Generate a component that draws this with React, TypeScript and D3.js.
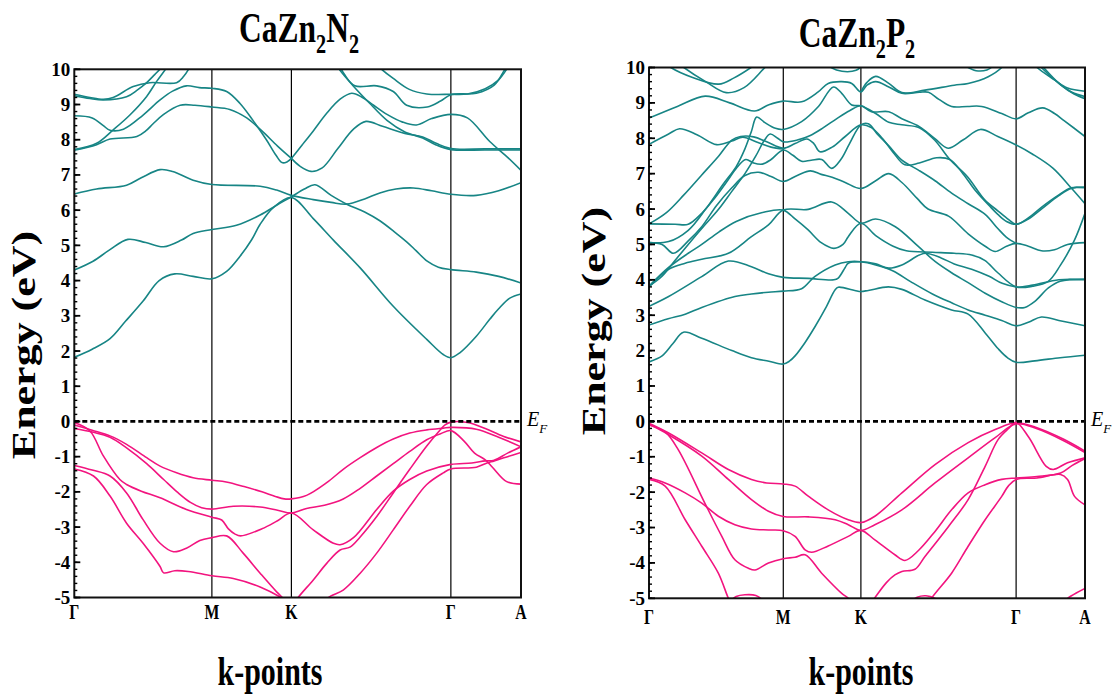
import React from "react";
import * as d3 from "d3";

type Pt = [number, number];

// High-symmetry path labels and their positions along each k-path (0..1)
const kLabels = ["Γ", "M", "K", "Γ", "A"];
const kTicksN2 = [0, 0.308, 0.486, 0.843, 1];
const kTicksP2 = [0, 0.308, 0.486, 0.842, 1];
const energyMajor = d3.range(-5, 11, 1);
const energyMinor = d3.range(-5, 10.001, 0.2);
const energyDomain: [number, number] = [-5, 10];

// ---- CaZn2N2 conduction bands ----
const n2Conduction: Pt[][] = [
  [[0, 1.82], [0.04, 2.05], [0.08, 2.35], [0.115, 2.85], [0.154, 3.42], [0.19, 4.0], [0.225, 4.19], [0.266, 4.12], [0.308, 4.05], [0.341, 4.26], [0.371, 4.69], [0.397, 5.16], [0.416, 5.6], [0.446, 6.08], [0.486, 6.36], [0.535, 5.76], [0.58, 5.15], [0.64, 4.36], [0.714, 3.27], [0.789, 2.33], [0.826, 1.9], [0.843, 1.81], [0.863, 1.95], [0.9, 2.42], [0.93, 2.9], [0.95, 3.2], [0.975, 3.5], [1, 3.62]],
  [[0, 4.3], [0.042, 4.55], [0.079, 4.87], [0.12, 5.17], [0.16, 5.08], [0.2, 4.96], [0.24, 5.15], [0.266, 5.34], [0.308, 5.45], [0.363, 5.57], [0.416, 5.86], [0.453, 6.14], [0.486, 6.38], [0.515, 6.6], [0.539, 6.72], [0.575, 6.42], [0.61, 6.17], [0.65, 5.95], [0.684, 5.7], [0.72, 5.35], [0.744, 5.1], [0.765, 4.85], [0.79, 4.55], [0.815, 4.38], [0.843, 4.31], [0.9, 4.24], [0.95, 4.12], [1, 3.93]],
  [[0, 6.46], [0.05, 6.6], [0.117, 6.71], [0.15, 6.92], [0.192, 7.15], [0.22, 7.1], [0.266, 6.85], [0.308, 6.73], [0.416, 6.68], [0.453, 6.57], [0.486, 6.42], [0.535, 6.3], [0.575, 6.22], [0.61, 6.17], [0.65, 6.32], [0.684, 6.49], [0.72, 6.6], [0.759, 6.63], [0.8, 6.55], [0.843, 6.45], [0.9, 6.42], [0.95, 6.55], [1, 6.78]],
  [[0, 7.7], [0.05, 7.86], [0.08, 8.02], [0.14, 8.09], [0.16, 8.25], [0.177, 8.46], [0.2, 8.72], [0.237, 8.98], [0.27, 8.98], [0.308, 8.93], [0.348, 8.86], [0.386, 8.62], [0.42, 8.25], [0.455, 7.82], [0.486, 7.47]],
  [[0, 8.68], [0.04, 8.62], [0.065, 8.4], [0.08, 8.27], [0.11, 8.3], [0.154, 8.7], [0.192, 9.13], [0.22, 9.38], [0.251, 9.53], [0.28, 9.48], [0.308, 9.46], [0.341, 9.37], [0.371, 9.03], [0.4, 8.55], [0.43, 8.0], [0.452, 7.55], [0.465, 7.35], [0.476, 7.37], [0.486, 7.47]],
  [[0, 7.72], [0.05, 7.9], [0.087, 8.28], [0.125, 8.71], [0.162, 9.23], [0.184, 9.65], [0.207, 10.05], [0.22, 10.3]],
  [[0, 9.29], [0.035, 9.2], [0.065, 9.15], [0.087, 9.2], [0.132, 9.51], [0.169, 9.62], [0.229, 9.62], [0.245, 9.8], [0.258, 10.05], [0.27, 10.3]],
  [[0, 9.25], [0.035, 9.17], [0.065, 9.13], [0.117, 9.22], [0.14, 9.4], [0.162, 9.62], [0.18, 9.85], [0.195, 10.05], [0.21, 10.3]],
  [[0.486, 7.47], [0.51, 7.85], [0.535, 8.25], [0.565, 8.75], [0.595, 9.15], [0.621, 9.32], [0.645, 9.2], [0.67, 8.98], [0.7, 8.72], [0.735, 8.5], [0.766, 8.42], [0.8, 8.6], [0.843, 8.72], [0.88, 8.62], [0.93, 7.95], [0.97, 7.5], [1, 7.13]],
  [[0.486, 7.47], [0.505, 7.25], [0.53, 7.1], [0.555, 7.2], [0.59, 7.75], [0.625, 8.3], [0.653, 8.52], [0.69, 8.38], [0.74, 8.18], [0.78, 8.08], [0.81, 7.9], [0.843, 7.75], [0.92, 7.74], [1, 7.74]],
  [[0.585, 10.15], [0.593, 10], [0.625, 9.52], [0.66, 9.05], [0.7, 8.55], [0.74, 8.22], [0.78, 8.05], [0.81, 7.85], [0.843, 7.72], [0.92, 7.71], [1, 7.71]],
  [[0.59, 10.2], [0.605, 9.85], [0.628, 9.53], [0.677, 9.53], [0.714, 9.37], [0.744, 8.98], [0.79, 8.93], [0.82, 9.1], [0.843, 9.28], [0.9, 9.32], [0.94, 9.55], [0.964, 10], [0.975, 10.2]],
  [[0.68, 10.1], [0.688, 10], [0.714, 9.74], [0.75, 9.43], [0.789, 9.3], [0.843, 9.29], [0.88, 9.3], [0.92, 9.45], [0.95, 9.7], [0.968, 10], [0.98, 10.2]],
];

// ---- CaZn2N2 valence bands ----
const n2Valence: Pt[][] = [
  [[0, -0.1], [0.04, -0.25], [0.08, -0.41], [0.117, -0.65], [0.162, -1.03], [0.192, -1.27], [0.229, -1.46], [0.266, -1.6], [0.308, -1.67], [0.34, -1.72], [0.38, -1.85], [0.42, -2.0], [0.45, -2.13], [0.47, -2.2], [0.486, -2.2], [0.52, -2.1], [0.565, -1.74], [0.602, -1.36], [0.64, -1.03], [0.677, -0.74], [0.714, -0.5], [0.751, -0.33], [0.789, -0.24], [0.826, -0.19], [0.843, -0.17], [0.9, -0.22], [0.95, -0.45], [1, -0.72]],
  [[0, -0.2], [0.04, -0.3], [0.08, -0.45], [0.117, -0.75], [0.162, -1.2], [0.2, -1.65], [0.23, -2.0], [0.26, -2.3], [0.285, -2.45], [0.308, -2.49], [0.356, -2.41], [0.416, -2.43], [0.455, -2.52], [0.486, -2.6], [0.52, -2.47], [0.56, -2.38], [0.602, -2.2], [0.64, -1.9], [0.677, -1.55], [0.714, -1.2], [0.751, -0.85], [0.789, -0.52], [0.82, -0.35], [0.843, -0.26], [0.872, -0.55], [0.896, -0.9], [0.92, -1.09], [0.936, -1.3], [0.968, -1.71], [1, -1.78]],
  [[0, -0.03], [0.035, -0.27], [0.065, -0.98], [0.102, -1.65], [0.117, -1.79], [0.15, -1.98], [0.192, -2.17], [0.251, -2.5], [0.308, -2.72], [0.33, -2.8], [0.345, -3.05], [0.36, -3.2], [0.372, -3.25], [0.42, -3.05], [0.455, -2.82], [0.486, -2.6], [0.535, -3.08], [0.58, -3.46], [0.595, -3.5], [0.625, -3.3], [0.677, -2.5], [0.714, -1.98], [0.751, -1.65], [0.789, -1.41], [0.843, -1.22], [0.89, -1.18], [0.92, -1.12], [0.94, -1.1], [0.97, -0.9], [1, -0.72]],
  [[0, -1.25], [0.04, -1.38], [0.08, -1.55], [0.117, -2.03], [0.154, -2.79], [0.192, -3.46], [0.222, -3.7], [0.251, -3.6], [0.281, -3.38], [0.308, -3.3], [0.341, -3.25], [0.378, -3.74], [0.416, -4.31], [0.453, -4.84], [0.47, -5.05], [0.48, -5.2]],
  [[0, -1.35], [0.043, -1.55], [0.08, -2.12], [0.117, -2.89], [0.154, -3.46], [0.192, -4.12], [0.2, -4.3], [0.225, -4.24], [0.255, -4.26], [0.308, -4.38], [0.356, -4.46], [0.416, -4.7], [0.46, -4.98], [0.48, -5.15]],
  [[0.49, -5.2], [0.501, -5.0], [0.535, -4.5], [0.565, -4.03], [0.595, -3.65], [0.617, -3.57], [0.64, -3.28], [0.677, -2.7], [0.714, -2.03], [0.751, -1.36], [0.789, -0.7], [0.815, -0.3], [0.83, -0.1], [0.843, -0.02], [0.88, -0.03], [0.92, -0.2], [0.96, -0.42], [1, -0.58]],
  [[0.56, -5.2], [0.569, -5.0], [0.602, -4.79], [0.64, -4.31], [0.677, -3.74], [0.714, -3.08], [0.751, -2.41], [0.789, -1.79], [0.826, -1.46], [0.843, -1.35], [0.9, -1.3], [0.92, -1.2], [0.94, -1.12], [0.97, -1.0], [1, -0.88]],
];

// ---- CaZn2P2 conduction bands ----
const p2Conduction: Pt[][] = [
  [[0, 1.68], [0.03, 1.85], [0.055, 2.2], [0.079, 2.52], [0.121, 2.35], [0.19, 2.0], [0.235, 1.8], [0.275, 1.7], [0.308, 1.62], [0.322, 1.7], [0.335, 1.85], [0.358, 2.23], [0.381, 2.68], [0.405, 3.2], [0.427, 3.72], [0.434, 3.79], [0.472, 3.7], [0.486, 3.67], [0.503, 3.7], [0.549, 3.8], [0.58, 3.73], [0.633, 3.43], [0.694, 3.15], [0.732, 3.03], [0.771, 2.5], [0.801, 2.05], [0.822, 1.8], [0.842, 1.67], [0.885, 1.71], [0.943, 1.8], [1, 1.87]],
  [[0, 2.72], [0.044, 2.9], [0.083, 3.03], [0.121, 3.22], [0.197, 3.53], [0.235, 3.6], [0.274, 3.65], [0.308, 3.68], [0.35, 3.75], [0.38, 4.09], [0.427, 4.42], [0.457, 4.51], [0.486, 4.51], [0.52, 4.42], [0.56, 4.25], [0.6, 3.95], [0.65, 3.6], [0.694, 3.35], [0.732, 3.15], [0.771, 3.0], [0.809, 2.85], [0.842, 2.7], [0.87, 2.8], [0.9, 2.95], [0.94, 2.85], [1, 2.7]],
  [[0, 3.25], [0.044, 3.52], [0.121, 4.09], [0.182, 4.53], [0.235, 4.37], [0.274, 4.17], [0.308, 4.07], [0.365, 4.04], [0.424, 4.0], [0.434, 4.05], [0.45, 4.35], [0.457, 4.47], [0.486, 4.51], [0.52, 4.45], [0.55, 4.33], [0.58, 4.42], [0.62, 4.7], [0.635, 4.75], [0.67, 4.62], [0.7, 4.45], [0.74, 4.3], [0.78, 4.1], [0.81, 3.9], [0.842, 3.8], [0.88, 3.85], [0.94, 4.0], [1, 4.0]],
  [[0, 3.8], [0.045, 4.3], [0.083, 4.47], [0.121, 4.58], [0.182, 4.75], [0.235, 5.22], [0.274, 5.55], [0.308, 5.97], [0.365, 5.99], [0.419, 6.2], [0.457, 5.88], [0.486, 5.6], [0.52, 5.72], [0.565, 5.5], [0.617, 4.95], [0.656, 4.52], [0.694, 4.2], [0.732, 3.92], [0.771, 3.62], [0.809, 3.38], [0.842, 3.22], [0.862, 3.22], [0.885, 3.39], [0.916, 3.77], [0.943, 3.96], [1, 4.02]],
  [[0, 3.82], [0.045, 4.35], [0.09, 4.75], [0.121, 5.0], [0.16, 5.35], [0.2, 5.65], [0.26, 5.9], [0.308, 5.97], [0.335, 5.72], [0.365, 5.41], [0.395, 5.05], [0.424, 4.89], [0.445, 5.0], [0.457, 5.22], [0.486, 5.6], [0.52, 5.25], [0.56, 4.95], [0.59, 4.82], [0.65, 4.78], [0.7, 4.75], [0.74, 4.7], [0.77, 4.55], [0.8, 4.2], [0.842, 3.8], [0.88, 3.82], [0.915, 3.95], [0.943, 4.4], [0.975, 5.1], [1, 5.88]],
  [[0, 3.82], [0.03, 4.1], [0.06, 4.55], [0.09, 5.0], [0.121, 5.45], [0.16, 6.0], [0.19, 6.5], [0.22, 7.0], [0.245, 7.5], [0.265, 7.95], [0.278, 8.12], [0.295, 8.0], [0.308, 7.9], [0.34, 7.95], [0.37, 8.08], [0.4, 8.3], [0.43, 8.55], [0.46, 8.78], [0.486, 8.92], [0.51, 8.75], [0.55, 8.75], [0.58, 8.55], [0.62, 8.33], [0.655, 8.0], [0.686, 7.72], [0.72, 7.95], [0.76, 8.25], [0.8, 8.05], [0.842, 7.81], [0.88, 7.55], [0.927, 7.15], [0.968, 6.6], [1, 6.15]],
  [[0, 5.05], [0.03, 5.0], [0.056, 4.75], [0.09, 5.1], [0.121, 5.5], [0.155, 6.1], [0.19, 6.6], [0.22, 6.95], [0.251, 7.04], [0.28, 6.92], [0.308, 6.78], [0.34, 6.95], [0.37, 7.08], [0.395, 6.98], [0.42, 6.9], [0.45, 6.75], [0.486, 6.58], [0.52, 6.8], [0.55, 7.0], [0.58, 6.75], [0.615, 6.3], [0.64, 6.0], [0.687, 5.8], [0.732, 5.3], [0.771, 4.95], [0.794, 4.8], [0.82, 4.95], [0.842, 5.03], [0.87, 4.95], [0.9, 4.82], [0.93, 4.85], [0.96, 5.0], [1, 5.05]],
  [[0, 5.05], [0.045, 5.08], [0.09, 5.4], [0.13, 6.0], [0.17, 6.7], [0.2, 7.2], [0.22, 7.7], [0.235, 8.2], [0.247, 8.6], [0.265, 8.45], [0.29, 8.28], [0.308, 8.25], [0.35, 8.47], [0.388, 8.89], [0.423, 9.45], [0.442, 9.27], [0.465, 8.94], [0.486, 8.92], [0.52, 8.7], [0.55, 8.45], [0.58, 8.38], [0.62, 8.3], [0.655, 7.95], [0.69, 7.4], [0.73, 6.92], [0.77, 6.26], [0.8, 5.95], [0.825, 5.7], [0.842, 5.57], [0.87, 5.75], [0.9, 6.05], [0.94, 6.4], [0.968, 6.6], [1, 6.6]],
  [[0, 5.58], [0.06, 5.57], [0.09, 5.57], [0.121, 5.88], [0.15, 6.3], [0.18, 6.8], [0.2, 7.15], [0.222, 7.4], [0.24, 7.3], [0.26, 7.27], [0.28, 7.4], [0.308, 7.67], [0.33, 7.52], [0.35, 7.35], [0.372, 7.38], [0.396, 7.4], [0.419, 7.15], [0.44, 7.4], [0.46, 7.85], [0.486, 8.38], [0.503, 8.41], [0.525, 8.1], [0.549, 7.8], [0.58, 7.38], [0.618, 7.1], [0.656, 6.8], [0.694, 6.45], [0.732, 6.15], [0.771, 5.85], [0.8, 5.45], [0.82, 5.2], [0.842, 5.03]],
  [[0, 5.58], [0.04, 5.9], [0.08, 6.4], [0.12, 6.95], [0.16, 7.5], [0.19, 7.95], [0.21, 8.05], [0.24, 8.04], [0.27, 7.9], [0.308, 7.72], [0.335, 7.85], [0.362, 7.98], [0.378, 7.85], [0.392, 7.62], [0.42, 7.75], [0.45, 8.05], [0.486, 8.38], [0.51, 8.3], [0.535, 8.0], [0.56, 7.6], [0.587, 7.25], [0.62, 7.3], [0.66, 7.45], [0.69, 7.4], [0.72, 7.0], [0.75, 6.5], [0.78, 6.1], [0.8, 5.85], [0.82, 5.65], [0.842, 5.57], [0.87, 5.72], [0.9, 6.0], [0.94, 6.38], [0.968, 6.58], [1, 6.62]],
  [[0, 7.83], [0.045, 8.12], [0.07, 8.27], [0.11, 8.1], [0.155, 7.82], [0.19, 7.92], [0.215, 8.03], [0.25, 7.88], [0.28, 7.75], [0.308, 7.7]],
  [[0, 8.57], [0.065, 8.9], [0.129, 9.19], [0.185, 9.0], [0.242, 8.77], [0.275, 8.95], [0.308, 9.05], [0.35, 9.03], [0.388, 9.31], [0.411, 9.55], [0.442, 9.6], [0.465, 9.55], [0.486, 9.31], [0.5, 9.5], [0.52, 9.6], [0.55, 9.45], [0.58, 9.27], [0.62, 9.3], [0.641, 9.3], [0.665, 9.1], [0.694, 8.9], [0.73, 8.9], [0.763, 8.9], [0.809, 8.7], [0.842, 8.55], [0.87, 8.72], [0.903, 8.86], [0.93, 8.7], [0.952, 8.5], [1, 8.05]],
  [[0.486, 9.31], [0.5, 9.58], [0.52, 9.75], [0.55, 9.55], [0.58, 9.29], [0.633, 9.36], [0.7, 9.5], [0.732, 9.55], [0.778, 9.74], [0.809, 10], [0.82, 10.2]],
  [[0.04, 10.1], [0.05, 10], [0.1, 9.72], [0.16, 9.53], [0.194, 9.7], [0.234, 10], [0.245, 10.1]],
  [[0.07, 10.1], [0.08, 10], [0.13, 9.6], [0.177, 9.29], [0.218, 9.43], [0.266, 10], [0.28, 10.15]],
  [[0.41, 10.05], [0.43, 9.93], [0.455, 9.88], [0.475, 9.92], [0.49, 10.05]],
  [[0.725, 10.05], [0.75, 9.91], [0.775, 9.93], [0.79, 10.05]],
  [[0.88, 10.15], [0.89, 10], [0.93, 9.65], [0.96, 9.42], [1, 9.33]],
  [[0.89, 10.15], [0.9, 10], [0.94, 9.55], [0.97, 9.3], [1, 9.18]],
  [[0.895, 10.15], [0.905, 10], [0.945, 9.5], [0.975, 9.25], [1, 9.12]],
];

// ---- CaZn2P2 valence bands ----
const p2Valence: Pt[][] = [
  [[0, -0.05], [0.044, -0.32], [0.121, -0.89], [0.182, -1.36], [0.235, -1.64], [0.27, -1.74], [0.308, -1.77], [0.335, -1.83], [0.366, -2.12], [0.411, -2.5], [0.457, -2.78], [0.486, -2.86], [0.518, -2.68], [0.58, -2.02], [0.656, -1.22], [0.732, -0.6], [0.794, -0.23], [0.842, -0.04], [0.89, -0.18], [0.95, -0.5], [1, -0.84]],
  [[0, -0.08], [0.044, -0.37], [0.121, -0.98], [0.182, -1.64], [0.235, -2.21], [0.274, -2.54], [0.308, -2.69], [0.366, -2.7], [0.427, -2.78], [0.457, -2.92], [0.486, -3.08], [0.518, -2.92], [0.58, -2.5], [0.656, -1.74], [0.732, -1.03], [0.794, -0.46], [0.842, -0.07], [0.89, -0.21], [0.95, -0.54], [1, -0.88]],
  [[0, -0.1], [0.037, -0.3], [0.067, -0.8], [0.128, -2.31], [0.167, -3.25], [0.197, -3.91], [0.228, -4.15], [0.243, -4.2], [0.274, -4.0], [0.308, -3.88], [0.335, -3.84], [0.358, -3.77], [0.396, -4.29], [0.442, -4.86], [0.457, -5.0], [0.47, -5.2]],
  [[0, -1.6], [0.037, -1.74], [0.083, -2.02], [0.121, -2.31], [0.159, -2.68], [0.197, -2.92], [0.235, -3.04], [0.274, -3.07], [0.308, -3.09], [0.335, -3.25], [0.358, -3.63], [0.373, -3.7], [0.411, -3.52], [0.457, -3.25], [0.486, -3.08], [0.518, -3.35], [0.564, -3.77], [0.587, -3.93], [0.618, -3.65], [0.656, -3.11], [0.694, -2.5], [0.732, -2.02], [0.771, -1.79], [0.809, -1.64], [0.842, -1.6], [0.89, -1.56], [0.944, -1.46], [0.97, -1.25], [1, -1.05]],
  [[0, -1.64], [0.037, -1.83], [0.083, -2.78], [0.121, -3.53], [0.159, -4.29], [0.182, -5.0], [0.19, -5.2]],
  [[0.185, -5.1], [0.2, -4.95], [0.22, -4.9], [0.245, -4.92], [0.266, -5.1]],
  [[0.6, -5.1], [0.615, -4.97], [0.635, -4.93], [0.655, -5.0], [0.665, -5.1]],
  [[0.505, -5.2], [0.52, -4.95], [0.545, -4.55], [0.564, -4.34], [0.58, -4.24], [0.61, -4.18], [0.633, -3.82], [0.687, -2.97], [0.732, -2.21], [0.771, -1.27], [0.801, -0.51], [0.825, -0.2], [0.842, -0.03], [0.871, -0.45], [0.911, -1.27], [0.927, -1.36], [0.96, -1.17], [1, -1.03]],
  [[0.64, -5.2], [0.648, -5.0], [0.694, -4.29], [0.732, -3.53], [0.771, -2.78], [0.809, -2.12], [0.824, -1.83], [0.842, -1.64], [0.89, -1.6], [0.944, -1.5], [0.96, -1.64], [0.976, -2.12], [1, -2.36]],
  [[0.95, -5.1], [0.96, -5.0], [0.98, -4.85], [1, -4.72]],
];

const TEAL = "#178585";
const PINK = "#f2147f";
const FONT = "'Liberation Serif', 'Times New Roman', serif";

type PanelCfg = {
  id: string;
  formula: [string, boolean][];
  ticks: number[];
  cond: Pt[][];
  val: Pt[][];
  x0: number; x1: number; top: number; bottom: number;
  titleX: number; titleBase: number;
  yLabelX: number; yLabelY: number;
  xLabelX: number; xLabelBase: number;
  tickBase: number;
};

const panels: PanelCfg[] = [
  {
    id: "n2",
    formula: [["CaZn", false], ["2", true], ["N", false], ["2", true]],
    ticks: kTicksN2, cond: n2Conduction, val: n2Valence,
    x0: 74.3, x1: 521, top: 69.3, bottom: 597.5,
    titleX: 299, titleBase: 41.7,
    yLabelX: 35, yLabelY: 345,
    xLabelX: 270, xLabelBase: 685,
    tickBase: 619,
  },
  {
    id: "p2",
    formula: [["CaZn", false], ["2", true], ["P", false], ["2", true]],
    ticks: kTicksP2, cond: p2Conduction, val: p2Valence,
    x0: 649, x1: 1085, top: 67.5, bottom: 598.3,
    titleX: 857, titleBase: 46.7,
    yLabelX: 605, yLabelY: 321,
    xLabelX: 861, xLabelBase: 685,
    tickBase: 624,
  },
];

function Panel({ cfg }: { cfg: PanelCfg }) {
  const x = d3.scaleLinear().domain([0, 1]).range([cfg.x0, cfg.x1]);
  const y = d3.scaleLinear().domain(energyDomain).range([cfg.bottom, cfg.top]);
  const line = d3
    .line<Pt>()
    .x((d) => x(d[0]))
    .y((d) => y(d[1]))
    .curve(d3.curveCatmullRom.alpha(0.5));
  const clipId = `clip-${cfg.id}`;
  const y0 = y(0);

  return (
    <g>
      <defs>
        <clipPath id={clipId}>
          <rect x={cfg.x0} y={cfg.top} width={cfg.x1 - cfg.x0} height={cfg.bottom - cfg.top} />
        </clipPath>
      </defs>

      {/* title with subscripts */}
      <text
        transform={`translate(${cfg.titleX},${cfg.titleBase}) scale(0.75,1)`}
        textAnchor="middle"
        fontFamily={FONT}
        fontWeight="bold"
        fontSize={42}
        fill="#000"
      >
        {cfg.formula.map(([s, sub], i) => {
          const prevSub = i > 0 && cfg.formula[i - 1][1];
          const dy = sub ? 11 : prevSub ? -11 : 0;
          return (
            <tspan key={i} dy={dy} fontSize={sub ? 27 : 42}>
              {s}
            </tspan>
          );
        })}
      </text>

      {/* high-symmetry verticals */}
      {cfg.ticks.slice(1, -1).map((t, i) => (
        <line key={i} x1={x(t)} x2={x(t)} y1={cfg.top} y2={cfg.bottom} stroke="#000" strokeWidth={1.2} />
      ))}

      {/* bands */}
      <g clipPath={`url(#${clipId})`} fill="none" strokeWidth={1.6} strokeLinejoin="round">
        {cfg.cond.map((b, i) => (
          <path key={`c${i}`} d={line(b) || ""} stroke={TEAL} />
        ))}
        {cfg.val.map((b, i) => (
          <path key={`v${i}`} d={line(b) || ""} stroke={PINK} />
        ))}
      </g>

      {/* Fermi level */}
      <line x1={cfg.x0} x2={cfg.x1} y1={y0} y2={y0} stroke="#000" strokeWidth={2.8} strokeDasharray="5,3" />
      <text x={cfg.x1 + 6} y={y0 + 5} fontFamily={FONT} fontStyle="italic" fontSize={20} fill="#000">
        E
        <tspan fontSize={13} dy={7}>F</tspan>
      </text>

      {/* frame */}
      <rect
        x={cfg.x0}
        y={cfg.top}
        width={cfg.x1 - cfg.x0}
        height={cfg.bottom - cfg.top}
        fill="none"
        stroke="#111"
        strokeWidth={2}
      />

      {/* energy ticks */}
      {energyMinor.map((e, i) => (
        <line key={`m${i}`} x1={cfg.x0} x2={cfg.x0 + 3} y1={y(e)} y2={y(e)} stroke="#000" strokeWidth={1.4} />
      ))}
      {energyMajor.map((e) => (
        <g key={`M${e}`}>
          <line x1={cfg.x0} x2={cfg.x0 + 6} y1={y(e)} y2={y(e)} stroke="#000" strokeWidth={1.8} />
          <text
            x={cfg.x0 - 4}
            y={y(e) + 6.5}
            textAnchor="end"
            fontFamily={FONT}
            fontWeight="bold"
            fontSize={19}
            fill="#000"
          >
            {e}
          </text>
        </g>
      ))}

      {/* k-point labels */}
      {cfg.ticks.map((t, i) => (
        <text
          key={`k${i}`}
          transform={`translate(${x(t)},${cfg.tickBase}) scale(0.75,1)`}
          textAnchor="middle"
          fontFamily={FONT}
          fontWeight="bold"
          fontSize={21}
          fill="#000"
        >
          {kLabels[i]}
        </text>
      ))}

      {/* axis titles */}
      <text
        transform={`translate(${cfg.yLabelX},${cfg.yLabelY}) scale(0.76,1) rotate(-90)`}
        textAnchor="middle"
        fontFamily={FONT}
        fontWeight="bold"
        fontSize={44}
        fill="#000"
      >
        Energy (eV)
      </text>
      <text
        transform={`translate(${cfg.xLabelX},${cfg.xLabelBase}) scale(0.73,1)`}
        textAnchor="middle"
        fontFamily={FONT}
        fontWeight="bold"
        fontSize={41}
        fill="#000"
      >
        k-points
      </text>
    </g>
  );
}

export default function App() {
  return (
    <svg
      width={1114}
      height={698}
      viewBox="0 0 1114 698"
      style={{ position: "absolute", left: 0, top: 0, background: "#fff" }}
    >
      <rect width={1114} height={698} fill="#fff" />
      {panels.map((p) => (
        <Panel key={p.id} cfg={p} />
      ))}
    </svg>
  );
}
